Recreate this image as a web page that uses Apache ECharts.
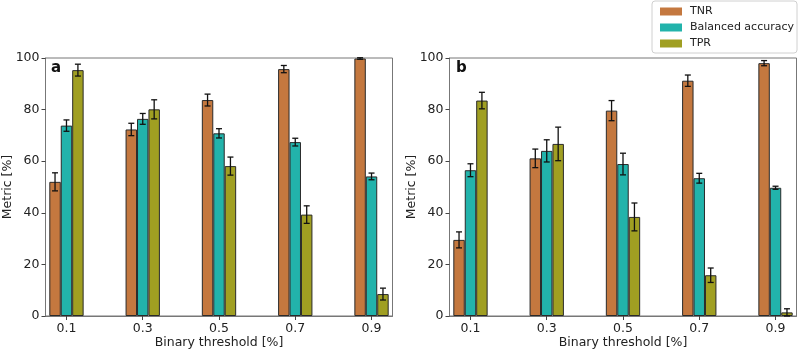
<!DOCTYPE html>
<html>
<head>
<meta charset="utf-8">
<script src="https://cdn.jsdelivr.net/npm/echarts@6/dist/echarts.min.js"></script>
<style>html,body{margin:0;padding:0;background:#fff;}#c{width:800px;height:350px;}</style>
</head>
<body>
<div id="c"></div>
<script>
const thresholds = ['0.1', '0.3', '0.5', '0.7', '0.9'];
const seriesNames = ['TNR', 'Balanced accuracy', 'TPR'];
// panel a
const tnrA = [52.0, 72.3, 83.7, 95.7, 99.8];
const tnrErrA = [3.5, 2.4, 2.3, 1.4, 0.3];
const balA = [73.8, 76.4, 70.8, 67.4, 54.1];
const balErrA = [2.2, 2.1, 1.8, 1.5, 1.3];
const tprA = [95.3, 80.1, 58.1, 39.3, 8.5];
const tprErrA = [2.3, 3.7, 3.5, 3.4, 2.3];
// panel b
const tnrB = [29.5, 61.1, 79.6, 91.2, 98.0];
const tnrErrB = [3.1, 3.6, 3.9, 2.2, 1.0];
const balB = [56.5, 64.0, 58.9, 53.4, 49.7];
const balErrB = [2.5, 4.3, 4.2, 1.9, 0.6];
const tprB = [83.5, 66.7, 38.4, 15.8, 1.4];
const tprErrB = [3.2, 6.5, 5.4, 2.8, 1.4];
const yTicks = [0, 20, 40, 60, 80, 100];

const colors = ['#c4783f', '#22b3ab', '#a09f22'];
const FONT = 'DejaVu Sans';
const BAR_FRAC = 0.15;

const chart = echarts.init(document.getElementById('c'), null, {renderer: 'canvas'});

function xAxisCfg(gi) {
  return {
    type: 'value', gridIndex: gi, min: -0.275, max: 4.275,
    name: 'Binary threshold [%]', nameLocation: 'middle', nameGap: 20, nameMoveOverlap: false,
    nameTextStyle: {fontFamily: FONT, fontSize: 12.5, color: '#222'},
    axisLine: {show: true, onZero: false, lineStyle: {color: '#777', width: 1}},
    axisTick: {show: true, customValues: [0, 1, 2, 3, 4], length: 4, lineStyle: {color: '#444'}},
    axisLabel: {customValues: [0, 1, 2, 3, 4], formatter: v => thresholds[Math.round(v)],
      fontFamily: FONT, fontSize: 12.5, color: '#222', margin: 6},
    splitLine: {show: false}
  };
}
function yAxisCfg(gi) {
  return {
    type: 'value', gridIndex: gi, min: 0, max: 100, interval: 20,
    name: 'Metric [%]', nameLocation: 'middle', nameGap: 31, nameRotate: 90, nameMoveOverlap: false,
    nameTextStyle: {fontFamily: FONT, fontSize: 12.5, color: '#222'},
    axisLine: {show: true, onZero: false, lineStyle: {color: '#777', width: 1}},
    axisTick: {show: true, length: 4, lineStyle: {color: '#444'}},
    axisLabel: {customValues: yTicks, fontFamily: FONT, fontSize: 12.5, color: '#222', margin: 6},
    splitLine: {show: false}
  };
}

function barSeries(name, vals, k, gi) {
  return {
    name: name, type: 'bar', xAxisIndex: gi, yAxisIndex: gi,
    data: vals.map((v, i) => [i, v]),
    barWidth: (BAR_FRAC * 100) + '%', barGap: '0%',
    itemStyle: {color: colors[k], borderColor: '#2a2a2a', borderWidth: 1},
    emphasis: {disabled: true}, z: 2
  };
}

function errSeries(gi, groups) {
  const data = [];
  groups.forEach((g, k) => {
    g.vals.forEach((v, i) => data.push([i, v, g.errs[i], k]));
  });
  return {
    type: 'custom', xAxisIndex: gi, yAxisIndex: gi, z: 5, silent: true,
    encode: {x: 0, y: 1},
    data: data,
    clip: false,
    renderItem: function (params, api) {
      const xi = api.value(0), v = api.value(1), e = api.value(2), k = api.value(3);
      const w = api.size([BAR_FRAC, 0])[0];
      const cx = api.coord([xi, v])[0] + (k - 1) * w;
      const yTop = api.coord([xi, v + e])[1];
      const yBot = api.coord([xi, v - e])[1];
      const cap = 3;
      const st = {stroke: '#111', lineWidth: 1.3};
      return {
        type: 'group',
        children: [
          {type: 'line', shape: {x1: cx, y1: yTop, x2: cx, y2: yBot}, style: st},
          {type: 'line', shape: {x1: cx - cap, y1: yTop, x2: cx + cap, y2: yTop}, style: st},
          {type: 'line', shape: {x1: cx - cap, y1: yBot, x2: cx + cap, y2: yBot}, style: st}
        ]
      };
    }
  };
}

const option = {
  animation: false,
  backgroundColor: '#fff',
  textStyle: {fontFamily: FONT},
  title: [
    {text: 'a', left: 49, top: 59, padding: 2, textStyle: {fontFamily: FONT, fontSize: 15, fontWeight: 'bold', color: '#111'}},
    {text: 'b', left: 454, top: 59, padding: 2, textStyle: {fontFamily: FONT, fontSize: 15, fontWeight: 'bold', color: '#111'}}
  ],
  legend: {
    data: seriesNames, orient: 'vertical', right: 3, top: 1,
    icon: 'rect', itemWidth: 22, itemHeight: 8, itemGap: 5,
    itemStyle: {borderWidth: 0},
    textStyle: {fontFamily: FONT, fontSize: 11, color: '#222', padding: [0, 0, 0, 3]},
    backgroundColor: '#fff', borderColor: '#d0d0d0', borderWidth: 1, borderRadius: 3,
    padding: [5, 3, 4, 8]
  },
  grid: [
    {left: 45.5, top: 58, width: 347, height: 258, outerBoundsMode: 'none', containLabel: false, show: true, borderColor: '#777', borderWidth: 1, backgroundColor: 'transparent'},
    {left: 449.5, top: 58, width: 347, height: 258, outerBoundsMode: 'none', containLabel: false, show: true, borderColor: '#777', borderWidth: 1, backgroundColor: 'transparent'}
  ],
  xAxis: [xAxisCfg(0), xAxisCfg(1)],
  yAxis: [yAxisCfg(0), yAxisCfg(1)],
  series: [
    barSeries(seriesNames[0], tnrA, 0, 0),
    barSeries(seriesNames[1], balA, 1, 0),
    barSeries(seriesNames[2], tprA, 2, 0),
    barSeries(seriesNames[0], tnrB, 0, 1),
    barSeries(seriesNames[1], balB, 1, 1),
    barSeries(seriesNames[2], tprB, 2, 1),
    errSeries(0, [{vals: tnrA, errs: tnrErrA}, {vals: balA, errs: balErrA}, {vals: tprA, errs: tprErrA}]),
    errSeries(1, [{vals: tnrB, errs: tnrErrB}, {vals: balB, errs: balErrB}, {vals: tprB, errs: tprErrB}])
  ]
};
chart.setOption(option);
</script>
</body>
</html>
